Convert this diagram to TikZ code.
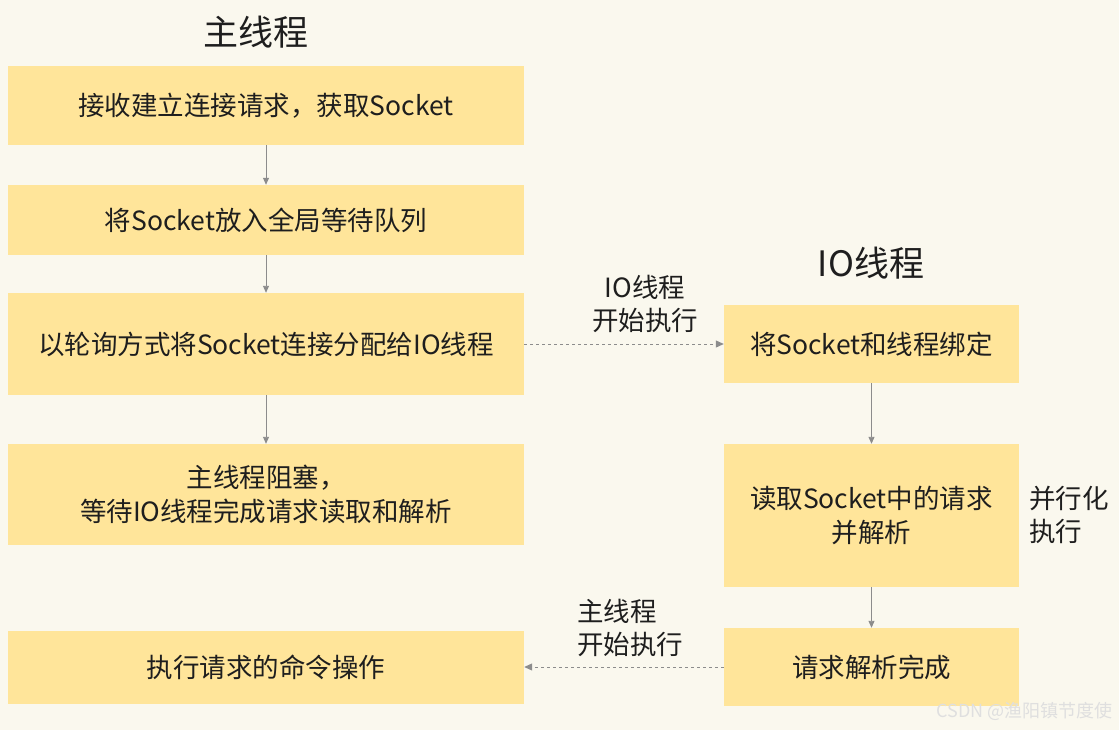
\documentclass[tikz,border=0pt]{standalone}
\usepackage{fontspec}
\setmainfont{Noto Sans CJK SC}
\usetikzlibrary{arrows.meta}
\definecolor{bg}{HTML}{FAF8EE}
\definecolor{boxc}{HTML}{FFE59A}
\definecolor{arr}{HTML}{8C8C8C}
\definecolor{txt}{HTML}{1E1E1E}
\tikzset{
  stepbox/.style={fill=boxc, draw=none, inner sep=0pt, text=txt, align=center,
    font=\fontsize{26.5}{34}\selectfont},
  title/.style={text=txt, font=\fontsize{35}{40}\selectfont, inner sep=0pt},
  lbl/.style={text=txt, font=\fontsize{26.5}{33}\selectfont, inner sep=0pt, align=left},
  flow/.style={arr, line width=0.9pt, -{Triangle[length=7pt,width=6pt]}},
  dflow/.style={arr, line width=1pt, dash pattern=on 3pt off 3pt, -{Triangle[length=8pt,width=7pt]}}
}
\begin{document}
\begin{tikzpicture}[x=1pt,y=-1pt]
\fill[bg] (0,0) rectangle (1119,730);
\useasboundingbox (0,0) rectangle (1119,730);
% titles
\node[title] (t1) at (256,32) {主线程};
\node[title] (t2) at (871,263) {IO线程};
% left boxes
\node[stepbox, minimum width=516pt, minimum height=79pt] (b1) at (266,105.5) {接收建立连接请求，获取Socket};
\node[stepbox, minimum width=516pt, minimum height=70pt] (b2) at (266,220) {将Socket放入全局等待队列};
\node[stepbox, minimum width=516pt, minimum height=102pt] (b3) at (266,344) {以轮询方式将Socket连接分配给IO线程};
\node[stepbox, minimum width=516pt, minimum height=101pt] (b4) at (266,494.5) {主线程阻塞，\\等待IO线程完成请求读取和解析};
\node[stepbox, minimum width=516pt, minimum height=73pt] (b5) at (266,667.5) {执行请求的命令操作};
% right boxes
\node[stepbox, minimum width=295pt, minimum height=78pt] (r1) at (871.5,344) {将Socket和线程绑定};
\node[stepbox, minimum width=295pt, minimum height=143pt] (r2) at (871.5,515.5) {读取Socket中的请求\\并解析};
\node[stepbox, minimum width=295pt, minimum height=78pt] (r3) at (871.5,667) {请求解析完成};
% connectors
\draw[flow] (b1) -- (b2);
\draw[flow] (b2) -- (b3);
\draw[flow] (b3) -- (b4);
\draw[flow] (r1) -- (r2);
\draw[flow] (r2) -- (r3);
\draw[dflow] (b3.east) -- (r1.west);
\draw[dflow] (r3.west) -- (b5.east |- r3.west);
% labels
\node[lbl, align=center] (l1) at (645,304) {IO线程\\开始执行};
\node[lbl] (l2) at (630,628) {主线程\\开始执行};
\node[lbl, anchor=west] (l3) at (1029,515) {并行化\\执行};
% watermark
\node[text=white!75!gray, font=\fontsize{18}{20}\selectfont, inner sep=0pt, anchor=east] (wm) at (1113,711) {CSDN @渔阳镇节度使};
\end{tikzpicture}
\end{document}
